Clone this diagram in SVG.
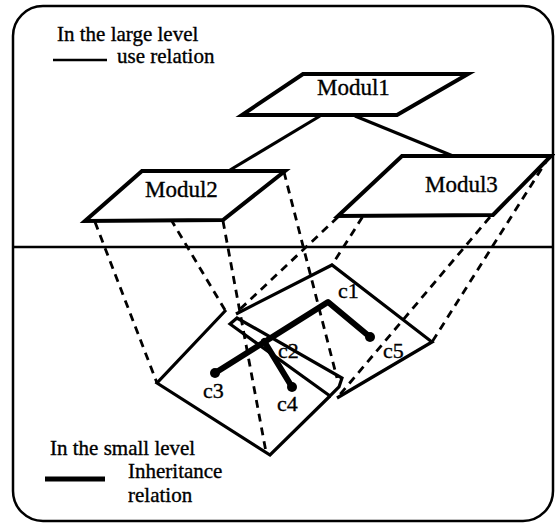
<svg xmlns="http://www.w3.org/2000/svg" width="555" height="524" viewBox="0 0 555 524">
<style>
.frame{fill:none;stroke:#000;stroke-width:2.5}
.mod{fill:#fff;stroke:#000;stroke-width:4;stroke-linejoin:miter;stroke-miterlimit:12}
.use{fill:none;stroke:#000;stroke-width:3.2}
.quad{fill:none;stroke:#000;stroke-width:3.2;stroke-linejoin:miter}
.dash{fill:none;stroke:#000;stroke-width:2.8;stroke-dasharray:8 6}
.inh{fill:none;stroke:#000;stroke-width:6;stroke-linecap:round;stroke-linejoin:round}
.dot{fill:#000}
text{font-family:"Liberation Serif","Times New Roman",serif;fill:#000;stroke:#000;stroke-width:0.35}
.lbl{font-size:21px}
.mt{font-size:23px}
.ct{font-size:22px}
</style>
<rect class="frame" x="13" y="6" width="540" height="515" rx="30" ry="30"/>
<line class="frame" x1="13" y1="247" x2="553" y2="247"/>

<g id="legend">
  <text class="lbl" x="57" y="41">In the large level</text>
  <line x1="53" y1="60" x2="107" y2="60" stroke="#000" stroke-width="2.5"/>
  <text class="lbl" x="117" y="63">use relation</text>
  <text class="lbl" x="50" y="455">In the small level</text>
  <line x1="45" y1="479" x2="105" y2="479" stroke="#000" stroke-width="5"/>
  <text class="lbl" x="128" y="478">Inheritance</text>
  <text class="lbl" x="128" y="502">relation</text>
</g>

<g id="connectors">
  <line class="use" x1="320" y1="116" x2="230" y2="170"/>
  <line class="use" x1="355" y1="116" x2="453" y2="156"/>
  <line class="dash" x1="95" y1="222" x2="157" y2="383"/>
  <line class="dash" x1="142" y1="171" x2="225" y2="310"/>
  <line class="dash" x1="223" y1="221" x2="266" y2="452"/>
  <line class="dash" x1="284" y1="172" x2="337" y2="378"/>
  <line class="dash" x1="338" y1="217" x2="236" y2="313"/>
  <line class="dash" x1="400" y1="158" x2="332" y2="265"/>
  <line class="dash" x1="490" y1="217" x2="337" y2="398"/>
  <line class="dash" x1="549" y1="157" x2="432" y2="342"/>
</g>

<g id="modul1">
  <polygon class="mod" points="303,74 468,74 397,115 242,115"/>
  <text class="mt" x="317" y="95">Modul1</text>
</g>
<g id="modul2">
  <polygon class="mod" points="142,171 285,171 223,220 85,221"/>
  <text class="mt" x="145" y="197">Modul2</text>
</g>
<g id="modul3">
  <polygon class="mod" points="402,156 551,156 493,215 338,216"/>
  <text class="mt" x="425" y="192">Modul3</text>
</g>

<g id="region-a">
  <path class="quad" d="M226,310 L157,383 L270,455 L330,396"/>
  <path class="quad" d="M230,324 L237,318 L342,378 L339,387 L330,396 Z"/>
</g>
<g id="region-b">
  <path class="quad" d="M236,314 L332,265 L432,342 L337,398"/>
</g>

<g id="classes">
  <polyline class="inh" points="370,337 328,302 215,373"/>
  <line class="inh" x1="264" y1="341" x2="292" y2="387"/>
  <circle class="dot" cx="370" cy="337" r="5"/>
  <circle class="dot" cx="215" cy="373" r="5"/>
  <circle class="dot" cx="292" cy="387" r="5"/>
  <text class="ct" x="338" y="298">c1</text>
  <text class="ct" x="278" y="358">c2</text>
  <text class="ct" x="203" y="398">c3</text>
  <text class="ct" x="277" y="411">c4</text>
  <text class="ct" x="383" y="358">c5</text>
</g>
</svg>
